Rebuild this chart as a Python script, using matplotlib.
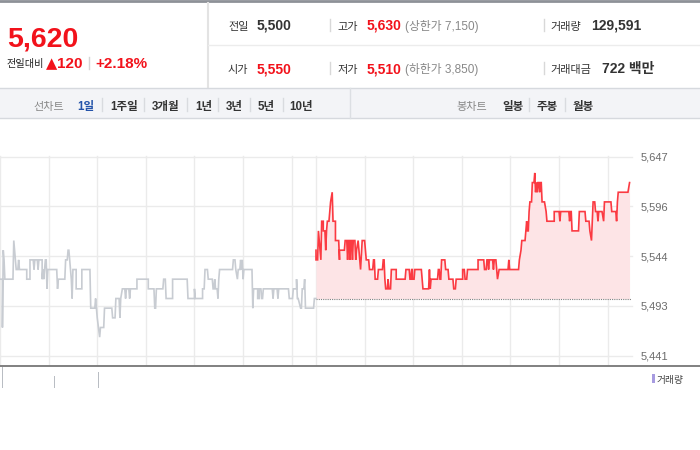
import matplotlib
matplotlib.use("Agg")
import matplotlib.pyplot as plt
from matplotlib.lines import Line2D
from matplotlib.patches import Rectangle

# ---------------- data ----------------
current_price = 5620
change_abs = 120
change_pct = 2.18
prev_close = 5500
open_price = 5550
high_price = 5630
low_price = 5510
upper_limit = 7150
lower_limit = 3850
volume_total = 129591
amount_mil = 722

line_periods = ["1일", "1주일", "3개월", "1년", "3년", "5년", "10년"]
candle_periods = ["일봉", "주봉", "월봉"]

# previous session (gray), minutes from 09:00 of previous day
prev_t = [0, 3, 3, 4, 5, 6, 16, 17, 18, 19, 20, 22, 23, 24, 33, 33, 37, 37, 41, 42, 43, 46, 47, 48,
          52, 52, 53, 54, 56, 57, 58, 59, 70, 71, 72, 80, 81, 83, 84, 85, 86, 87, 88, 89, 90, 94, 94,
          101, 101, 111, 112, 117, 118, 119, 120, 123, 124, 128, 129, 138, 139, 142, 143, 147, 148,
          149, 151, 154, 155, 156, 159, 160, 161, 169, 169, 183, 183, 190, 191, 192, 193, 201, 202,
          204, 205, 213, 213, 231, 232, 240, 240, 241, 250, 250, 252, 253, 256, 257, 262, 263, 264,
          265, 266, 268, 269, 270, 271, 287, 288, 290, 291, 293, 294, 296, 297, 298, 299, 300, 301,
          311, 312, 313, 318, 318, 320, 320, 322, 323, 324, 325, 336, 337, 338, 342, 343, 344, 356,
          357, 361, 362, 366, 366, 367, 368, 371, 372, 373, 375, 376, 377, 387, 388, 390]
prev_p = [5520, 5520, 5470, 5550, 5540, 5520, 5520, 5560, 5550, 5540, 5530, 5530, 5540, 5530, 5530,
          5520, 5520, 5540, 5540, 5530, 5540, 5540, 5530, 5540, 5540, 5520, 5530, 5520, 5540, 5540,
          5510, 5530, 5530, 5510, 5520, 5520, 5540, 5540, 5550, 5550, 5540, 5530, 5520, 5500, 5530,
          5530, 5510, 5510, 5530, 5530, 5490, 5490, 5500, 5490, 5480, 5460, 5470, 5470, 5490, 5490,
          5480, 5480, 5500, 5500, 5480, 5500, 5510, 5510, 5500, 5510, 5510, 5500, 5510, 5510, 5520,
          5520, 5510, 5510, 5490, 5490, 5510, 5510, 5520, 5520, 5500, 5500, 5520, 5520, 5500, 5500,
          5510, 5500, 5500, 5510, 5510, 5530, 5530, 5520, 5520, 5510, 5510, 5520, 5510, 5510, 5500,
          5520, 5530, 5530, 5540, 5540, 5530, 5520, 5530, 5530, 5540, 5530, 5540, 5520, 5530, 5530,
          5490, 5510, 5510, 5500, 5500, 5510, 5510, 5500, 5500, 5510, 5510, 5500, 5510, 5510, 5500,
          5510, 5510, 5500, 5500, 5510, 5510, 5520, 5500, 5500, 5490, 5490, 5510, 5510, 5520, 5490,
          5490, 5500, 5500]

# today's session (red), minutes on the same continuous axis (390 = today 09:00)
today_t = [390, 390, 392, 393, 394, 396, 397, 399, 399, 401, 402, 403, 404, 406, 407, 408, 410, 411,
           414, 414, 418, 419, 419, 425, 426, 428, 429, 430, 431, 432, 433, 434, 435, 436, 438, 439,
           440, 442, 443, 445, 447, 450, 451, 452, 455, 456, 460, 461, 462, 463, 466, 467, 472, 473,
           474, 475, 476, 478, 479, 480, 482, 483, 489, 489, 500, 501, 505, 506, 507, 508, 509, 509,
           511, 512, 520, 521, 522, 529, 530, 531, 532, 540, 541, 542, 543, 544, 545, 549, 550, 553,
           554, 559, 560, 562, 563, 571, 571, 573, 574, 576, 577, 590, 590, 597, 598, 600, 601, 602,
           603, 604, 608, 609, 610, 612, 614, 616, 627, 628, 629, 640, 641, 643, 644, 648, 650, 651,
           652, 653, 654, 656, 657, 659, 660, 661, 662, 663, 664, 665, 666, 667, 668, 669, 672, 674,
           675, 684, 684, 690, 691, 692, 702, 703, 704, 705, 706, 714, 715, 722, 723, 727, 728, 730,
           732, 734, 735, 737, 738, 739, 743, 745, 746, 754, 755, 760, 761, 762, 763, 775, 777]
today_p = [5550, 5540, 5540, 5570, 5560, 5540, 5580, 5580, 5570, 5570, 5550, 5570, 5580, 5580, 5590,
           5600, 5610, 5580, 5580, 5560, 5560, 5540, 5550, 5550, 5560, 5560, 5540, 5560, 5560, 5540,
           5560, 5560, 5540, 5560, 5560, 5540, 5550, 5560, 5550, 5530, 5560, 5560, 5550, 5540, 5540,
           5530, 5530, 5540, 5540, 5520, 5520, 5530, 5530, 5540, 5540, 5520, 5510, 5510, 5520, 5510,
           5510, 5530, 5530, 5520, 5520, 5530, 5530, 5520, 5520, 5530, 5530, 5520, 5520, 5530, 5530,
           5520, 5510, 5510, 5530, 5510, 5520, 5520, 5530, 5530, 5520, 5520, 5540, 5540, 5530, 5530,
           5520, 5520, 5510, 5510, 5520, 5520, 5530, 5530, 5520, 5520, 5530, 5530, 5540, 5540, 5530,
           5530, 5540, 5540, 5530, 5540, 5540, 5530, 5540, 5540, 5520, 5530, 5530, 5540, 5530, 5530,
           5540, 5550, 5560, 5560, 5580, 5570, 5570, 5590, 5600, 5600, 5620, 5620, 5630, 5610, 5620,
           5610, 5620, 5620, 5610, 5620, 5620, 5600, 5600, 5590, 5580, 5580, 5590, 5590, 5580, 5590,
           5590, 5580, 5590, 5590, 5570, 5570, 5590, 5590, 5580, 5580, 5570, 5560, 5600, 5600, 5590,
           5590, 5580, 5590, 5590, 5580, 5600, 5600, 5590, 5590, 5580, 5600, 5610, 5610, 5620]

hour_marks = [0, 60, 120, 180, 240, 300, 360, 390, 450, 510, 570, 630, 690, 750]
session_end = 780

tick_vals = [5441, 5492.5, 5544, 5595.5, 5647]
tick_labels = ["5,441", "5,493", "5,544", "5,596", "5,647"]

vol_t = [3, 67, 122]
vol_v = [21, 12, 16]

# ---------------- figure ----------------
W, H = 700, 450
fig = plt.figure(figsize=(7, 4.5), dpi=100)
fig.patch.set_facecolor("white")


def fx(x):
    return x / W


def fy(y):
    return 1 - y / H


RED = "#f2121b"
DARK = "#333333"
GRAY = "#888888"
NUM = ["Liberation Sans", "Noto Sans CJK KR", "DejaVu Sans"]
KR = ["Noto Sans CJK KR", "DejaVu Sans"]


def txt(x, y, s, size, color, weight="normal", fam=NUM):
    fig.text(fx(x), fy(y), s, fontsize=size, color=color, fontweight=weight,
             family=fam, ha="left", va="baseline")


def hline(x0, x1, y, color, lw=1.0):
    fig.add_artist(Line2D([fx(x0), fx(x1)], [fy(y), fy(y)], color=color, lw=lw,
                          transform=fig.transFigure))


def vline(x, y0, y1, color, lw=1.0):
    fig.add_artist(Line2D([fx(x), fx(x)], [fy(y0), fy(y1)], color=color, lw=lw,
                          transform=fig.transFigure))


# header borders
hline(0, 700, 1.2, "#8d9197", lw=2.0)
vline(208, 2.5, 87.5, "#e3e3e3", lw=1.5)
hline(208, 700, 45, "#ececec", lw=1.0)

# toolbar band
fig.add_artist(Rectangle((0, fy(118)), 1, (118 - 88) / H, transform=fig.transFigure,
                         facecolor="#f3f4f7", edgecolor="none"))
hline(0, 700, 88, "#d6d9de", lw=1.0)
hline(0, 700, 118, "#d6d9de", lw=1.0)
vline(350, 88, 118, "#dcdfe3", lw=1.0)

# left price box
txt(7.5, 46.7, f"{current_price:,}", 20.5, RED, "bold")
txt(7, 67.5, "전일대비", 7.3, "#222222", fam=KR)
txt(45.5, 68.3, "▲", 10.5, RED, fam=["DejaVu Sans"])
txt(57.5, 68.3, f"{change_abs}", 11, RED, "bold")
vline(89, 57, 69, "#d5d5d5")
txt(95, 68.3, f"+{change_pct:.2f}%", 11, RED, "bold")

# right info rows
r1, r2 = 30, 73.3
txt(228, r1, "전일", 8, DARK, fam=KR)
txt(257, r1, f"{prev_close:,}", 10, DARK, "bold")
txt(228, r2, "시가", 8, DARK, fam=KR)
txt(257, r2, f"{open_price:,}", 10, RED, "bold")

vline(330, 19, 31, "#d8d8d8")
vline(330, 62, 74, "#d8d8d8")
txt(337, r1, "고가", 8, DARK, fam=KR)
txt(367, r1, f"{high_price:,}", 10, RED, "bold")
txt(405, r1, f"(상한가 {upper_limit:,})", 8.5, GRAY)
txt(337, r2, "저가", 8, DARK, fam=KR)
txt(367, r2, f"{low_price:,}", 10, RED, "bold")
txt(405, r2, f"(하한가 {lower_limit:,})", 8.5, GRAY)

vline(544, 19, 31, "#d8d8d8")
vline(544, 62, 74, "#d8d8d8")
txt(550, r1, "거래량", 8, DARK, fam=KR)
txt(591, r1, f"{volume_total:,}", 10, DARK, "bold")
txt(550, r2, "거래대금", 8, DARK, fam=KR)
txt(601.5, r2, f"{amount_mil} 백만", 10, DARK, "bold")

# toolbar texts
tb = 109.5
txt(33, tb, "선차트", 8, GRAY, fam=KR)
lp_x = [77, 110, 152, 195, 226, 258, 289]
lp_sep = [102, 144, 187, 218, 250, 283]
for i, (lab, x) in enumerate(zip(line_periods, lp_x)):
    txt(x, tb, lab, 8.3, "#2453a9" if i == 0 else DARK, "bold")
for x in lp_sep:
    vline(x, 98, 111, "#d9dbdf")
txt(456, tb, "봉차트", 8, GRAY, fam=KR)
cp_x = [502, 537, 573]
cp_sep = [529, 565]
for lab, x in zip(candle_periods, cp_x):
    txt(x, tb, lab, 8.3, DARK, "bold")
for x in cp_sep:
    vline(x, 98, 111, "#d9dbdf")

# ---------------- price chart ----------------
px_per_unit = 199 / 206.0
top_px, bot_px = 156.0, 365.0
y_top = 5647 + (156.5 - top_px) / px_per_unit
y_bot = 5647 - (bot_px - 156.5) / px_per_unit

ax = fig.add_axes([0, fy(bot_px), 632 / W, (bot_px - top_px) / H])
ax.set_xlim(0, session_end)
ax.set_ylim(y_bot, y_top)
for s in ax.spines.values():
    s.set_visible(False)
ax.set_xticks([])
ax.yaxis.tick_right()
ax.set_yticks(tick_vals)
ax.set_yticklabels(tick_labels, family=NUM)
ax.tick_params(axis="y", length=0, pad=6, labelsize=8, labelcolor="#6b6b6b")

for v in tick_vals:
    ax.axhline(v, color="#ebebeb", lw=1.0, zorder=0, clip_on=False)
for m in hour_marks:
    ax.axvline(m, color="#ebebeb", lw=1.0, zorder=0, clip_on=False)

ax.plot(prev_t, prev_p, color="#c8ccd2", lw=1.2, zorder=3, solid_joinstyle="miter")
ax.fill_between(today_t, today_p, prev_close, color="#fde4e6", lw=0, zorder=1)
ax.hlines(prev_close, hour_marks[7], session_end, colors="#808080", lw=0.8,
          linestyles=(0, (1, 1)), zorder=2)
ax.plot(today_t, today_p, color="#fb3a42", lw=1.2, zorder=4, solid_joinstyle="miter")

# bottom axis line across full width
hline(0, 700, 365.5, "#808080", lw=1.4)

# volume panel (top part visible)
axv = fig.add_axes([0, fy(388), 632 / W, (388 - 366.5) / H])
axv.set_xlim(0, session_end)
axv.set_ylim(0, 21.5)
axv.bar(vol_t, vol_v, width=1.6, color="#b9bdc3", align="center")
axv.axis("off")

# legend
fig.add_artist(Rectangle((fx(652), fy(383)), 3 / W, 9.5 / H, transform=fig.transFigure,
                         facecolor="#a79be0", edgecolor="none"))
txt(657, 383, "거래량", 7, "#444444", fam=KR)

fig.savefig("out.png", dpi=100, facecolor="white")
